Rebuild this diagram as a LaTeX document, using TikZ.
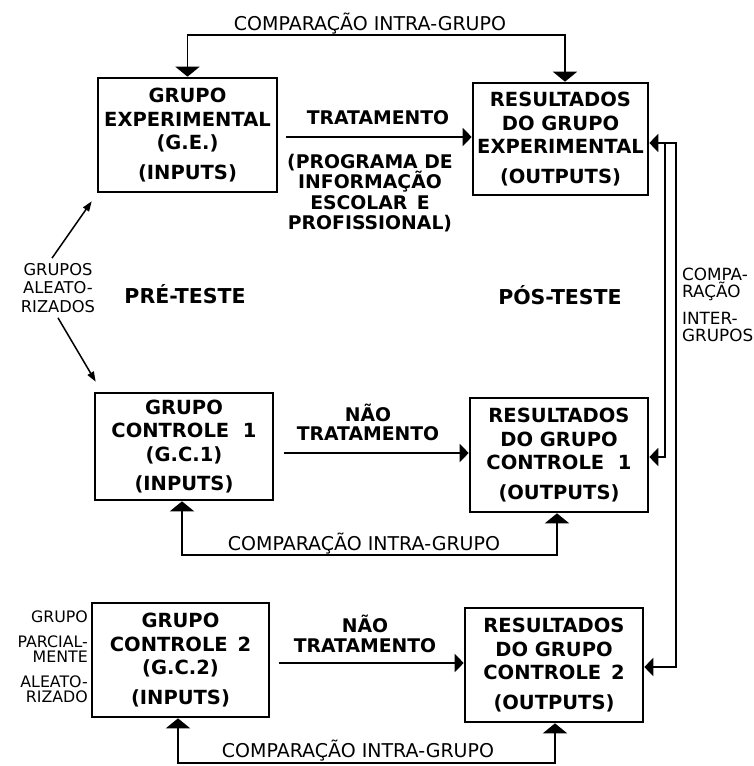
\documentclass[tikz,border=0pt]{standalone}
\usepackage{fontspec}
\setmainfont{DejaVu Sans}
\usetikzlibrary{arrows.meta}
\begin{document}
\begin{tikzpicture}[x=1pt,y=-1pt,
  box/.style={draw, line width=2.6pt, inner sep=0pt, align=center, font=\bfseries\fontsize{19.5}{23.5}\selectfont},
  lbl/.style={inner sep=0pt, align=center, font=\bfseries\fontsize{18.8}{20.5}\selectfont},
  thinlbl/.style={inner sep=0pt, font=\fontsize{19}{22}\selectfont},
  conn/.style={line width=1.8pt},
  vboth/.style={{Triangle[width=24pt,length=10pt]}-{Triangle[width=24pt,length=10pt]}},
  htip/.style={-{Triangle[width=18pt,length=9pt]}},
  hboth/.style={{Triangle[width=18pt,length=9pt]}-{Triangle[width=18pt,length=9pt]}},
  diag/.style={line width=1.5pt, -{Triangle[width=7pt,length=10pt]}},
]
\useasboundingbox (0,0) rectangle (753,766);

% boxes
\node[box, minimum width=179pt, minimum height=114pt] (ge) at (187.5,135) {GRUPO\\EXPERIMENTAL\\(G.E.)\\[6pt](INPUTS)};
\node[box, minimum width=175pt, minimum height=112pt] (re) at (560.5,139) {RESULTADOS\\DO GRUPO\\EXPERIMENTAL\\[6pt](OUTPUTS)};
\node[box, minimum width=178pt, minimum height=107pt] (gc1) at (184,446.5) {GRUPO\\CONTROLE\hspace{0.7em}1\\(G.C.1)\\[6pt](INPUTS)};
\node[box, minimum width=178pt, minimum height=114pt] (rc1) at (559,455) {RESULTADOS\\DO GRUPO\\CONTROLE\hspace{0.7em}1\\[6pt](OUTPUTS)};
\node[box, minimum width=177pt, minimum height=114pt] (gc2) at (180.5,660) {GRUPO\\CONTROLE\hspace{0.5em}2\\(G.C.2)\\[6pt](INPUTS)};
\node[box, minimum width=178pt, minimum height=114pt] (rc2) at (554,665) {RESULTADOS\\DO GRUPO\\CONTROLE\hspace{0.5em}2\\[6pt](OUTPUTS)};

% labels
\node[lbl] (trat) at (378,118) {TRATAMENTO};
\node[lbl] (prog) at (370,193) {(PROGRAMA DE\\INFORMAÇÃO\\ESCOLAR\hspace{0.5em}E\\PROFISSIONAL)};
\node[lbl, font=\bfseries\fontsize{18.8}{19}\selectfont] (nt1) at (368,422) {NÃO\\TRATAMENTO};
\node[lbl, font=\bfseries\fontsize{18.8}{19.5}\selectfont] (nt2) at (365,634) {NÃO\\TRATAMENTO};
\node[lbl, font=\bfseries\fontsize{20.5}{22}\selectfont] (pre) at (185,294) {PRÉ-TESTE};
\node[lbl, font=\bfseries\fontsize{20.5}{22}\selectfont] (pos) at (560,295) {PÓS-TESTE};

\node[thinlbl] (c1) at (370,24) {COMPARAÇÃO INTRA-GRUPO};
\node[thinlbl] (c2) at (364,544) {COMPARAÇÃO INTRA-GRUPO};
\node[thinlbl] (c3) at (358,751) {COMPARAÇÃO INTRA-GRUPO};

\node[inner sep=0pt, align=center, font=\fontsize{16.3}{18.5}\selectfont] (ga) at (58,288) {GRUPOS\\ALEATO-\\RIZADOS};
\node[inner sep=0pt, align=right, anchor=east, font=\fontsize{15.8}{15}\selectfont] (gp) at (88,657) {GRUPO\\[10pt]PARCIAL-\\MENTE\\[10pt]ALEATO-\\RIZADO};
\node[inner sep=0pt, align=left, anchor=west, font=\fontsize{16.8}{17}\selectfont] (ci) at (682,304.5) {COMPA-\\RAÇÃO\\[10pt]INTER-\\GRUPOS};

% intra-group comparisons
\coordinate (ytop) at (0,35);
\coordinate (ren) at ([xshift=4.5]re.north);
\draw[conn, vboth] (ge.north) -- (ge.north |- ytop) -- (ren |- ytop) -- (ren);

\coordinate (ymid) at (0,555);
\coordinate (g1s) at ([xshift=-2]gc1.south);
\coordinate (r1s) at ([xshift=-2]rc1.south);
\draw[conn, vboth] (g1s) -- (g1s |- ymid) -- (r1s |- ymid) -- (r1s);

\coordinate (ybot) at (0,763);
\coordinate (g2s) at ([xshift=-2.5]gc2.south);
\coordinate (r2s) at ([xshift=1]rc2.south);
\draw[conn, vboth] (g2s) -- (g2s |- ybot) -- (r2s |- ybot) -- (r2s);

% treatments
\coordinate (ty1) at (0,137);
\draw[conn, htip] (ge.east |- ty1) ++(8,0) -- (re.west |- ty1);
\coordinate (ty2) at (0,453);
\draw[conn, htip] (gc1.east |- ty2) ++(10,0) -- (rc1.west |- ty2);
\coordinate (ty3) at (0,663);
\draw[conn, htip] (gc2.east |- ty3) ++(9,0) -- (rc2.west |- ty3);

% inter-group comparison
\coordinate (o1) at (676,143);
\coordinate (o2) at (676,667);
\draw[conn, hboth] (o2 -| rc2.east) -- (o2) -- (o1) -- (o1 -| re.east);
\coordinate (i1) at (665,143);
\coordinate (i2) at (665,457);
\draw[conn, htip] (i1) -- (i2) -- (i2 -| rc1.east);

% random groups
\draw[diag] ([shift={(-6,-5)}]ga.north) -- ([shift={(-5,8)}]ge.south west);
\draw[diag] ([shift={(0,5)}]ga.south) -- ([shift={(2,-10)}]gc1.north west);
\end{tikzpicture}
\end{document}
